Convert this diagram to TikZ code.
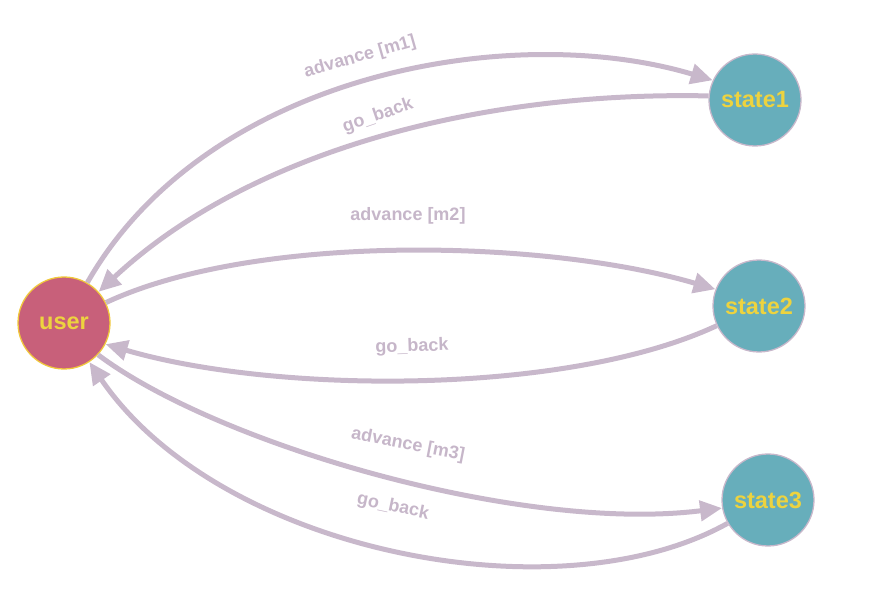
\documentclass[tikz,border=0pt]{standalone}
\usepackage{fontspec}
\setmainfont{Liberation Sans}
\usetikzlibrary{arrows.meta}
\definecolor{edgec}{HTML}{C8B8CB}
\definecolor{labc}{HTML}{C6B6C9}
\definecolor{userfill}{HTML}{C8607A}
\definecolor{userbord}{HTML}{F0C83C}
\definecolor{statefill}{HTML}{67AEBB}
\definecolor{txtc}{HTML}{EDD33F}
\tikzset{
  statenode/.style={circle,minimum size=92pt,inner sep=0pt,fill=statefill,draw=edgec,line width=1.3pt,text=txtc,font=\fontsize{23.5}{25}\selectfont\bfseries},
  usernode/.style={statenode,fill=userfill,draw=userbord},
  conn/.style={draw=edgec,line width=5pt,-{Triangle[length=22pt,width=20pt]}},
  lab/.style={text=labc,font=\fontsize{18}{20}\selectfont\bfseries,inner sep=1pt}
}
\begin{document}
\begin{tikzpicture}[x=1pt,y=1pt]
\useasboundingbox (0,0) rectangle (871,592);
\node[usernode] (user) at (64,269) {user};
\node[statenode] (state1) at (755,492) {state1};
\node[statenode] (state2) at (759,286) {state2};
\node[statenode] (state3) at (768,92) {state3};
\draw[conn] (user.60) .. controls +(120,210) and +(-200,60) .. (state1.155);
\draw[conn] (state1.175) .. controls +(-230,5) and +(150,140) .. (user.42);
\draw[conn] (user.26) .. controls +(150,70) and +(-170,50) .. (state2.159);
\draw[conn] (state2.205) .. controls +(-150,-70) and +(170,-50) .. (user.-27);
\draw[conn] (user.-43) .. controls +(120,-90) and +(-200,-25) .. (state3.190);
\draw[conn] (state3.210) .. controls +(-170,-95) and +(130,-190) .. (user.-57);
\node[lab,rotate=16] (l1) at (360,535) {advance [m1]};
\node[lab,rotate=19] (l2) at (378,476) {go\_back};
\node[lab] (l3) at (408,376) {advance [m2]};
\node[lab,rotate=2] (l4) at (412,245) {go\_back};
\node[lab,rotate=-11] (l5) at (408,147) {advance [m3]};
\node[lab,rotate=-12] (l6) at (393,85) {go\_back};
\end{tikzpicture}
\end{document}
